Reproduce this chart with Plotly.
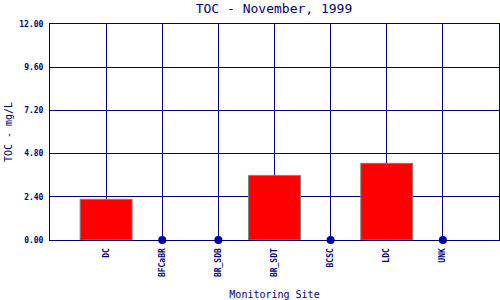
import plotly.graph_objects as go

sites = ["DC", "BFCaBR", "BR_SDB", "BR_SDT", "BCSC", "LDC", "UNK"]
toc = [2.26, 0.0, 0.0, 3.59, 0.0, 4.26, 0.0]
y_ticks = [0.0, 2.4, 4.8, 7.2, 9.6, 12.0]
y_tick_labels = ["0.00", "2.40", "4.80", "7.20", "9.60", "12.00"]

NAVY = "#000080"
MONO = "DejaVu Sans Mono"

pos = list(range(1, len(sites) + 1))
bar_x = [p for p, v in zip(pos, toc) if v > 0]
bar_y = [v for v in toc if v > 0]
dot_x = [p for p, v in zip(pos, toc) if v == 0]
dot_y = [v for v in toc if v == 0]

fig = go.Figure()
fig.add_trace(go.Bar(
    x=bar_x, y=bar_y, width=0.925,
    marker=dict(color="#FF0000", line=dict(color="#808080", width=1)),
    showlegend=False,
))
fig.add_trace(go.Scatter(
    x=dot_x, y=dot_y, mode="markers",
    marker=dict(color="#0000C0", size=8),
    showlegend=False, cliponaxis=False,
))

fig.update_layout(
    width=500, height=300,
    margin=dict(l=50, r=1, t=24, b=60),
    paper_bgcolor="white", plot_bgcolor="white",
    title=dict(text="TOC - November, 1999", x=0.548, xanchor="center",
               y=0.972, yanchor="middle",
               font=dict(family=MONO, size=13, color=NAVY)),
    xaxis=dict(
        range=[0, 8], tickvals=pos, ticktext=sites, tickangle=-90,
        showgrid=True, gridcolor=NAVY, gridwidth=1,
        showline=True, linecolor=NAVY, linewidth=1, mirror=True,
        ticks="outside", ticklen=4, tickcolor="rgba(0,0,0,0)",
        tickfont=dict(family=MONO, size=8, color=NAVY, weight="bold"),
        title=dict(text="Monitoring Site", standoff=15,
                   font=dict(family=MONO, size=10, color=NAVY)),
        zeroline=False, fixedrange=True,
    ),
    yaxis=dict(
        range=[0, 12], tickvals=y_ticks, ticktext=y_tick_labels,
        showgrid=True, gridcolor=NAVY, gridwidth=1,
        showline=True, linecolor=NAVY, linewidth=1, mirror=True,
        ticks="outside", ticklen=4, tickcolor="rgba(0,0,0,0)",
        tickfont=dict(family=MONO, size=8, color=NAVY, weight="bold"),
        title=dict(text="TOC - mg/L", standoff=4,
                   font=dict(family=MONO, size=10, color=NAVY)),
        zeroline=False, fixedrange=True,
    ),
)

fig.write_html("out.html", config={"displayModeBar": False})
